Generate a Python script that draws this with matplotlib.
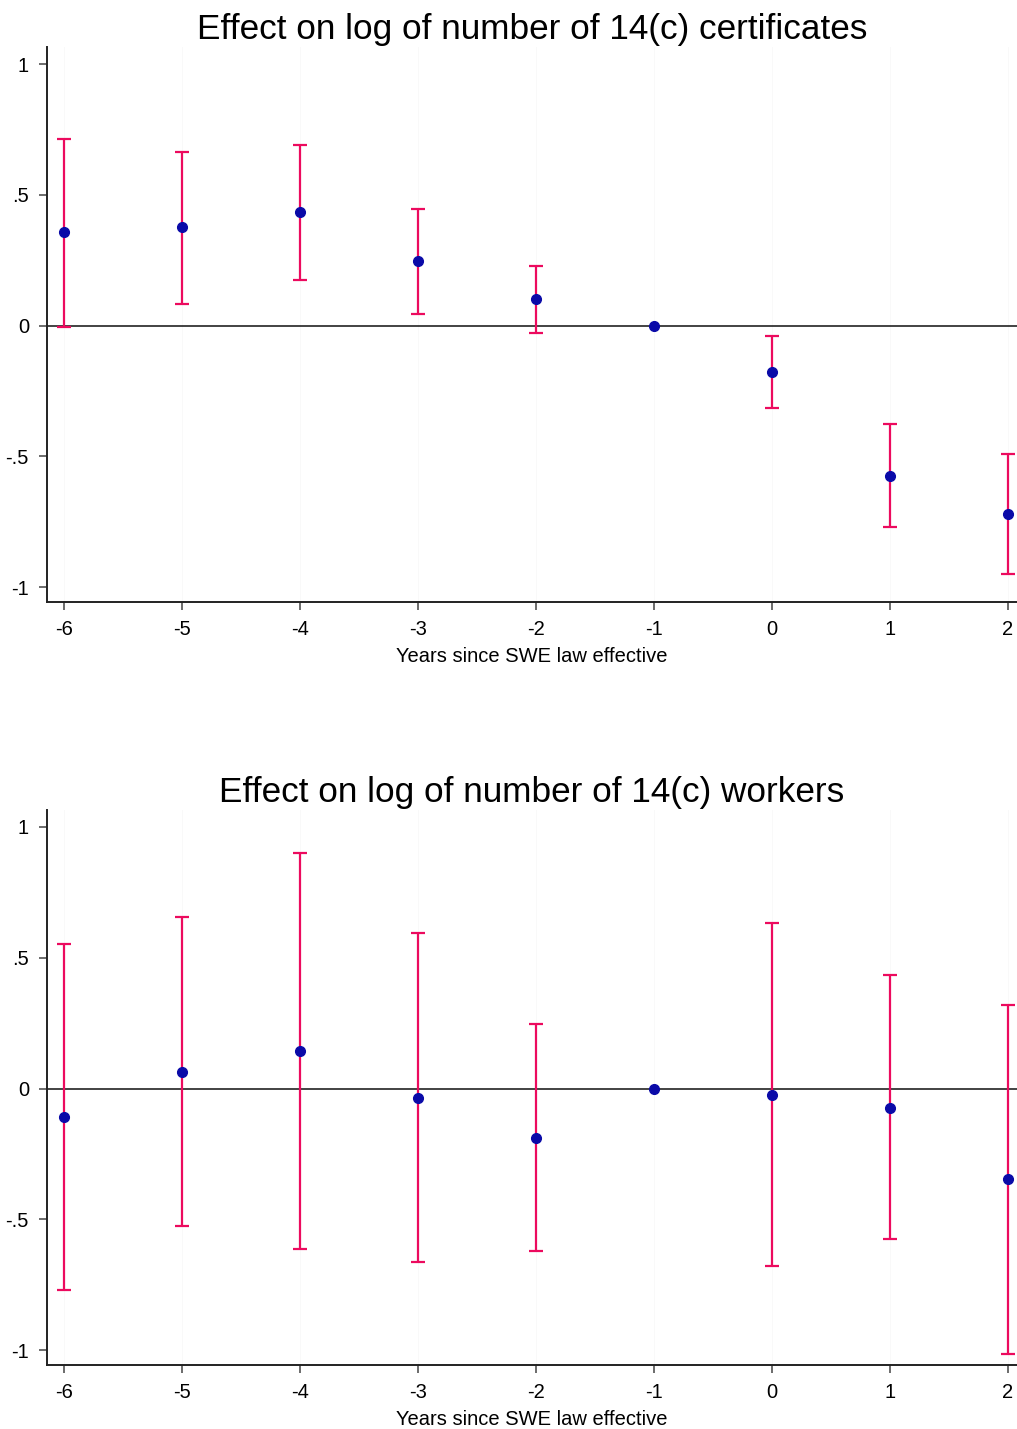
import matplotlib
matplotlib.use('Agg')
import matplotlib.pyplot as plt
import numpy as np

plt.rcParams['font.family'] = ['Liberation Sans', 'DejaVu Sans']
plt.rcParams['axes.unicode_minus'] = False

years = [-6, -5, -4, -3, -2, -1, 0, 1, 2]

# certificates: point estimate and 95% CI bounds
cert_est = [0.356, 0.375, 0.436, 0.245, 0.103, 0.0, -0.176, -0.574, -0.719]
cert_hi = [0.715, 0.662, 0.692, 0.444, 0.229, 0.0, -0.038, -0.375, -0.490]
cert_lo = [-0.004, 0.084, 0.176, 0.046, -0.027, 0.0, -0.317, -0.772, -0.948]

# workers
work_est = [-0.108, 0.062, 0.142, -0.038, -0.188, 0.0, -0.023, -0.073, -0.346]
work_hi = [0.554, 0.654, 0.900, 0.596, 0.246, 0.0, 0.631, 0.435, 0.319]
work_lo = [-0.769, -0.527, -0.615, -0.665, -0.623, 0.0, -0.677, -0.577, -1.015]

ytick_vals = [-1, -0.5, 0, 0.5, 1]
ytick_labels = ['-1', '-.5', '0', '.5', '1']

BAR_COLOR = '#ec0a5e'
DOT_COLOR = '#0a0aa8'


def draw_panel(ax, est, lo, hi, title):
    est = np.array(est)
    lo = np.array(lo)
    hi = np.array(hi)
    for x in years:
        ax.axvline(x, color='#f8f8f8', lw=0.6, zorder=0)
    ax.axhline(0, color='#222222', lw=1.2, zorder=1)
    has_ci = hi > lo
    xs = np.array(years)
    ax.errorbar(xs[has_ci], est[has_ci],
                yerr=[est[has_ci] - lo[has_ci], hi[has_ci] - est[has_ci]],
                fmt='none', ecolor=BAR_COLOR, elinewidth=1.6,
                capsize=5, capthick=1.6, zorder=2)
    ax.plot(xs, est, 'o', color=DOT_COLOR, markersize=7, zorder=3)

    ax.set_xlim(-6.144, 2.076)
    ax.set_ylim(-1.057, 1.065)
    ax.set_xticks(years)
    ax.set_xticklabels([str(y) for y in years])
    ax.set_yticks(ytick_vals)
    ax.set_yticklabels(ytick_labels)
    ax.tick_params(axis='both', labelsize=14.5, length=6, width=1.1,
                   color='#444444', pad=7)
    for side in ('top', 'right'):
        ax.spines[side].set_visible(False)
    for side in ('left', 'bottom'):
        ax.spines[side].set_linewidth(1.4)
        ax.spines[side].set_color('#222222')
    ax.set_xlabel('Years since SWE law effective', fontsize=14.5, labelpad=6)
    ax.set_title(title, fontsize=25.3, pad=6)


fig = plt.figure(figsize=(10.17, 14.29), dpi=100)
ax1 = fig.add_axes([0.0462, 0.5787, 0.9538, 0.3884])
ax2 = fig.add_axes([0.0462, 0.0448, 0.9538, 0.3884])

draw_panel(ax1, cert_est, cert_lo, cert_hi,
           'Effect on log of number of 14(c) certificates')
draw_panel(ax2, work_est, work_lo, work_hi,
           'Effect on log of number of 14(c) workers')

fig.savefig('out.png', dpi=100)
